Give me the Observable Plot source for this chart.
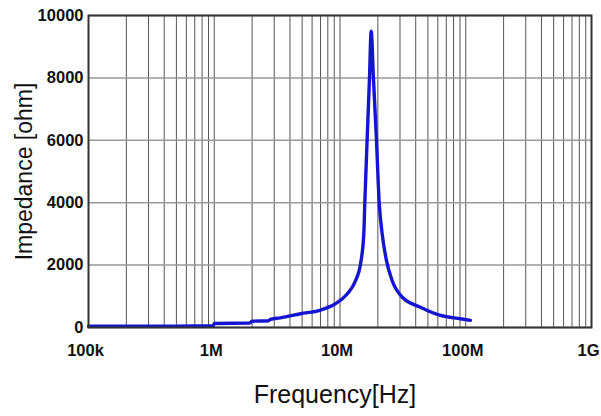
<!DOCTYPE html>
<html><head><meta charset="utf-8">
<script src="https://cdn.jsdelivr.net/npm/d3@7"></script>
<script src="https://cdn.jsdelivr.net/npm/@observablehq/plot@0.6"></script>
<style>body{margin:0;background:#fff}</style>
</head><body><div id="chart"></div>
<script>
// Frequency (Hz) and impedance (ohm)
const freqHz = [1e5, 2e5, 5e5, 9.8e5, 1.0e6, 1.9e6, 2.0e6, 2.7e6, 2.8e6, 3.36e6, 4.85e6, 7.0e6, 9.2e6, 11.4e6, 13.3e6, 14.55e6, 15.46e6, 15.75e6, 16.43e6, 17.16e6, 17.7e6, 18.44e6, 19.5e6, 20.5e6, 21.65e6, 23.4e6, 26.0e6, 31.3e6, 43.6e6, 63e6, 90.8e6, 109e6];
const impedanceOhm = [40, 42, 45, 50, 130, 140, 200, 215, 260, 310, 440, 560, 760, 1075, 1500, 2030, 2990, 4000, 6000, 8000, 9500, 8000, 6000, 4000, 3000, 2150, 1500, 970, 650, 385, 280, 230];
const xTickValues = [1e5, 1e6, 1e7, 1e8, 1e9];
const xTickLabels = ["100k", "1M", "10M", "100M", "1G"];
const yTickValues = [0, 2000, 4000, 6000, 8000, 10000];
const decades = [1e5, 1e6, 1e7, 1e8];
const gridMultipliers = [1, 2, 3, 4, 5, 6, 7, 8, 9];
const xTitle = "Frequency[Hz]";
const yTitle = "Impedance [ohm]";

const data = freqHz.map((f, i) => ({f, z: impedanceOhm[i]}));
const gridFreqs = decades.flatMap(d => gridMultipliers.map(m => d * m)).concat([1e9]);
const font = "'Liberation Sans', Arial, sans-serif";

const chart = Plot.plot({
  width: 601, height: 416,
  marginLeft: 88, marginRight: 10, marginTop: 15, marginBottom: 89,
  style: {background: "#fff", fontFamily: font, color: "#111"},
  x: {type: "log", domain: [1e5, 1e9]},
  y: {domain: [0, 10000]},
  marks: [
    Plot.ruleX(gridFreqs, {stroke: "#555", strokeWidth: 1}),
    Plot.ruleY(yTickValues, {stroke: "#999", strokeWidth: 1.5}),
    Plot.line(data, {x: "f", y: "z", stroke: "#1414d2", strokeWidth: 3.4, strokeLinejoin: "round", curve: "monotone-x"}),
    Plot.frame({stroke: "#333", strokeWidth: 2}),
    Plot.axisX({ticks: xTickValues, tickFormat: d => xTickLabels[xTickValues.indexOf(d)], tickSize: 0, tickPadding: 17, fontSize: 16.5, fontWeight: "bold", dx: -3, label: null}),
    Plot.axisY({ticks: yTickValues, tickFormat: d => String(d), tickSize: 0, tickPadding: 5, fontSize: 16.5, fontWeight: "bold", label: null}),
    Plot.text([xTitle], {text: d => d, frameAnchor: "bottom", textAnchor: "middle", dy: 75, dx: -5, fontSize: 25, fontFamily: font}),
    Plot.text([yTitle], {text: d => d, frameAnchor: "left", textAnchor: "middle", dx: -64, rotate: -90, fontSize: 23, fontFamily: font})
  ]
});
document.getElementById("chart").appendChild(chart);
</script>
</body></html>
